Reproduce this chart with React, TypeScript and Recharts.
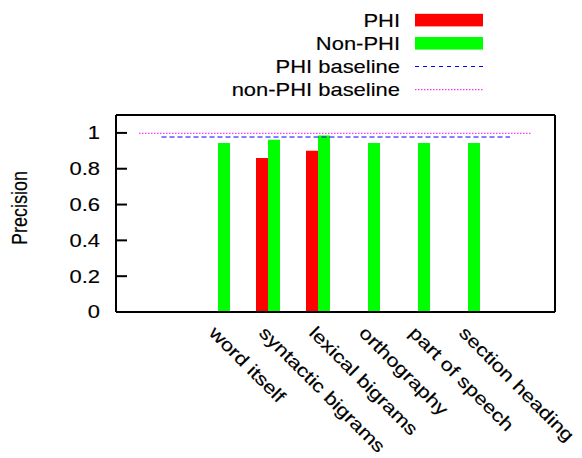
import React from 'react'
import { ComposedChart, Bar, XAxis, YAxis, ReferenceLine } from 'recharts'

document.body.style.margin = '0'

const features = [
  'word itself',
  'syntactic bigrams',
  'lexical bigrams',
  'orthography',
  'part of speech',
  'section heading',
]
const phiPrecision = [null, 0.86, 0.9, null, null, null]
const nonPhiPrecision = [0.944, 0.962, 0.985, 0.944, 0.944, 0.944]
const phiBaseline = 0.977
const nonPhiBaseline = 0.998
// x extent of the baseline lines, in feature-index units
const phiBaselineSpan = [-1.13, 5.84]
const nonPhiBaselineSpan = [-1.58, 6.28]
const yTicks = [0, 0.2, 0.4, 0.6, 0.8, 1]

const FONT = '"Liberation Sans", Arial, Helvetica, sans-serif'
const RED = '#ff0000'
const GREEN = '#00ff00'
const BLUE = '#0000ff'
const MAGENTA = '#ff00ff'
const STRETCH = 1.22
const TEXT_STYLE = { stroke: '#000', strokeWidth: 0.15 }

const data = features.map((name, i) => ({
  idx: i,
  name,
  phi: phiPrecision[i],
  nonPhi: nonPhiPrecision[i],
}))

const legendItems = [
  { label: 'PHI', kind: 'bar', color: RED },
  { label: 'Non-PHI', kind: 'bar', color: GREEN },
  { label: 'PHI baseline', kind: 'dash', color: BLUE },
  { label: 'non-PHI baseline', kind: 'dot', color: MAGENTA },
]

const FeatureTick = ({ x, y, payload }: any) => (
  <text
    transform={`translate(${x - 10},${y + 20}) rotate(45) scale(${STRETCH},1)`}
    fontSize={18}
    fontFamily={FONT}
    fill="#000"
    style={TEXT_STYLE}
  >
    {payload.value}
  </text>
)

const LeftTick = ({ x, y, payload }: any) => (
  <g>
    <text
      transform={`translate(${x},${y}) scale(${STRETCH},1)`}
      textAnchor="end"
      dy="0.36em"
      fontSize={18}
      fontFamily={FONT}
      fill="#000"
      style={TEXT_STYLE}
    >
      {payload.value}
    </text>
    <line x1={x + 16} x2={x + 27} y1={y} y2={y} stroke="#000" strokeWidth={2} />
  </g>
)

const RightTick = ({ x, y }: any) => (
  <line x1={x} x2={x - 11} y1={y} y2={y} stroke="#000" strokeWidth={2} />
)

const Legend = () => (
  <svg
    width={582}
    height={110}
    style={{ position: 'absolute', left: 0, top: 0 }}
  >
    {legendItems.map((item, i) => {
      const base = 26.7 + i * 23.2
      const mid = base - 6.6
      return (
        <g key={item.label}>
          <text
            transform={`translate(400,${base}) scale(${STRETCH},1)`}
            textAnchor="end"
            fontSize={18}
            fontFamily={FONT}
            fill="#000"
            style={TEXT_STYLE}
          >
            {item.label}
          </text>
          {item.kind === 'bar' ? (
            <rect x={415} y={mid - 6.3} width={68} height={12.6} fill={item.color} />
          ) : (
            <line
              x1={415}
              x2={483}
              y1={mid}
              y2={mid}
              stroke={item.color}
              strokeWidth={1}
              strokeDasharray={item.kind === 'dash' ? '4 4' : '1.5 1.5'}
            />
          )}
        </g>
      )
    })}
  </svg>
)

export default function App() {
  return (
    <div style={{ position: 'relative', width: 582, height: 458, background: '#fff' }}>
      <ComposedChart
        width={582}
        height={458}
        data={data}
        margin={{ top: 115, right: 0, bottom: 0, left: 0 }}
        barGap={0}
      >
        <XAxis
          xAxisId="cat"
          dataKey="name"
          interval={0}
          height={146}
          padding={{ left: 77, right: 62 }}
          axisLine={{ stroke: '#000', strokeWidth: 2 }}
          tickLine={false}
          tickSize={0}
          tick={<FeatureTick />}
        />
        <XAxis
          xAxisId="num"
          dataKey="idx"
          type="number"
          domain={[-2.04, 6.74]}
          allowDataOverflow
          hide
        />
        <YAxis
          yAxisId="l"
          width={116}
          domain={[0, 1.1]}
          ticks={yTicks}
          tickSize={0}
          tickMargin={16}
          axisLine={{ stroke: '#000', strokeWidth: 2 }}
          tickLine={false}
          tick={<LeftTick />}
        />
        <YAxis
          yAxisId="r"
          orientation="right"
          width={27}
          domain={[0, 1.1]}
          ticks={yTicks}
          tickSize={0}
          tickMargin={0}
          axisLine={{ stroke: '#000', strokeWidth: 2 }}
          tickLine={false}
          tick={<RightTick />}
        />
        <Bar
          xAxisId="cat"
          yAxisId="l"
          dataKey="phi"
          name="PHI"
          fill={RED}
          barSize={12}
          isAnimationActive={false}
        />
        <Bar
          xAxisId="cat"
          yAxisId="l"
          dataKey="nonPhi"
          name="Non-PHI"
          fill={GREEN}
          barSize={12}
          isAnimationActive={false}
        />
        <ReferenceLine
          xAxisId="num"
          yAxisId="l"
          ifOverflow="visible"
          segment={[
            { x: nonPhiBaselineSpan[0], y: nonPhiBaseline },
            { x: nonPhiBaselineSpan[1], y: nonPhiBaseline },
          ]}
          stroke={MAGENTA}
          strokeWidth={1}
          strokeDasharray="1.5 1.5"
        />
        <ReferenceLine
          xAxisId="num"
          yAxisId="l"
          ifOverflow="visible"
          segment={[
            { x: phiBaselineSpan[0], y: phiBaseline },
            { x: phiBaselineSpan[1], y: phiBaseline },
          ]}
          stroke={BLUE}
          strokeWidth={1}
          strokeDasharray="5 3"
        />
        <ReferenceLine
          xAxisId="num"
          yAxisId="l"
          y={1.1}
          stroke="#000"
          strokeWidth={2}
        />
      </ComposedChart>
      <Legend />
      <svg width={582} height={458} style={{ position: 'absolute', left: 0, top: 0, pointerEvents: 'none' }}>
        <text
          transform={`translate(26.5,208) scale(${STRETCH},1) rotate(-90)`}
          textAnchor="middle"
          fontSize={18}
          fontFamily={FONT}
          fill="#000"
          style={TEXT_STYLE}
        >
          Precision
        </text>
      </svg>
    </div>
  )
}
